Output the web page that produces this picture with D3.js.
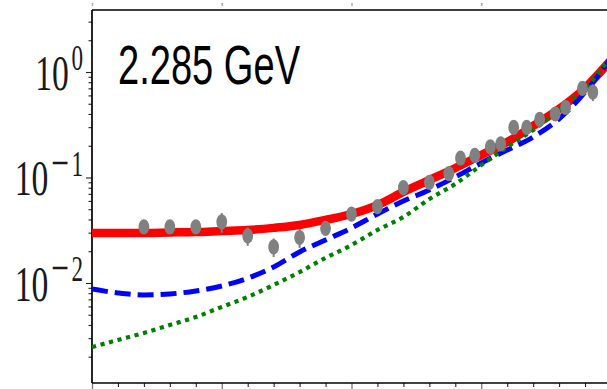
<!DOCTYPE html>
<html>
<head>
<meta charset="utf-8">
<script src="https://cdn.jsdelivr.net/npm/d3@7/dist/d3.min.js"></script>
<style>
  html, body { margin: 0; padding: 0; background: #fff; }
  svg { display: block; }
</style>
</head>
<body>
<svg id="chart" width="607" height="389"></svg>
<script>
// Angular distribution at W = 2.285 GeV: measured points and three model curves.
const energyLabel = "2.285 GeV";

// measured points
const cosTheta = [-0.8, -0.7, -0.6, -0.5, -0.4, -0.3, -0.2, -0.1, 0.0, 0.1, 0.2, 0.3,
                  0.375, 0.42, 0.475, 0.535, 0.575, 0.625, 0.675, 0.725, 0.785, 0.825, 0.89, 0.93];
const dsigma = [0.034, 0.034, 0.034, 0.038, 0.028, 0.022, 0.027, 0.033, 0.045, 0.053, 0.080, 0.090,
                0.109, 0.153, 0.162, 0.195, 0.208, 0.298, 0.298, 0.355, 0.400, 0.461, 0.698, 0.646];
const dsigmaErr = [0.003, 0.003, 0.003, 0.008, 0.0055, 0.0044, 0.0055, 0.003, 0.004, 0.005, 0.007, 0.008,
                   0.009, 0.012, 0.013, 0.015, 0.016, 0.024, 0.024, 0.028, 0.032, 0.040, 0.060, 0.116];

// model curves on a common cos(theta) grid
const cosGrid = [-1.0, -0.9, -0.8, -0.7, -0.6, -0.5, -0.4, -0.3, -0.2, -0.1, 0.0,
                 0.1, 0.2, 0.3, 0.4, 0.5, 0.6, 0.7, 0.8, 0.9, 1.0];
const fullModel = [0.0298, 0.0298, 0.0298, 0.0301, 0.0304, 0.0311, 0.0318, 0.0333, 0.0355, 0.0396, 0.0451,
                   0.0548, 0.0730, 0.0946, 0.123, 0.163, 0.217, 0.308, 0.446, 0.705, 1.30];
const dashedModel = [0.00877, 0.00804, 0.00769, 0.00787, 0.00840, 0.00937, 0.0111, 0.0142, 0.0197, 0.0256, 0.0332,
                     0.0451, 0.0598, 0.0762, 0.101, 0.137, 0.182, 0.242, 0.359, 0.646, 1.36];
const dottedModel = [0.00247, 0.00288, 0.00336, 0.00400, 0.00476, 0.00593, 0.00737, 0.00957, 0.0127, 0.0173, 0.0229,
                     0.0318, 0.0422, 0.0625, 0.0868, 0.131, 0.195, 0.282, 0.436, 0.705, 1.39];

// axis limits and ticks
const xLimits = [-1, 1];
const yLimits = [0.001127, 3.87];
const yMajorTicks = [0.01, 0.1, 1];
const yTickLabels = [["10", "\u2212", "2"], ["10", "\u2212", "1"], ["10", "", "0"]];
const xMajorTicks = [-1, -0.5, 0, 0.5, 1];

const svg = d3.select("#chart");
const plotLeft = 92, plotRight = 611, plotTop = 10, plotBottom = 383;

const x = d3.scaleLinear().domain(xLimits).range([plotLeft, plotRight]);
const y = d3.scaleLog().domain(yLimits).range([plotBottom, plotTop]);

svg.append("rect").attr("width", 607).attr("height", 389).attr("fill", "#fff");

svg.append("defs").append("clipPath").attr("id", "plot-area")
  .append("rect").attr("x", plotLeft).attr("y", plotTop)
  .attr("width", plotRight - plotLeft).attr("height", plotBottom - plotTop);

// minor ticks on y: 2..9 x 10^k inside the limits
const yMinor = [];
for (let k = -3; k <= 0; k++) {
  for (let m = 2; m <= 9; m++) {
    const v = m * Math.pow(10, k);
    if (v >= yLimits[0] && v <= yLimits[1]) yMinor.push(v);
  }
}
const xMinor = d3.range(-10, 11).map(i => i / 10).filter(v => !xMajorTicks.includes(v));

function styleAxis(g) {
  g.select(".domain").remove();
  g.selectAll("line").attr("stroke", "#222").attr("stroke-width", 1.1);
}

svg.append("g").attr("transform", `translate(${plotLeft},0)`)
  .call(d3.axisLeft(y).tickValues(yMinor).tickSize(3.5).tickFormat(""))
  .call(styleAxis);
svg.append("g").attr("transform", `translate(${plotLeft},0)`)
  .call(d3.axisLeft(y).tickValues(yMajorTicks).tickSize(6).tickFormat(""))
  .call(styleAxis);

svg.append("g").attr("transform", `translate(0,${plotBottom})`)
  .call(d3.axisBottom(x).tickValues(xMinor).tickSize(4).tickFormat(""))
  .call(styleAxis);
svg.append("g").attr("transform", `translate(0,${plotBottom})`)
  .call(d3.axisBottom(x).tickValues(xMajorTicks).tickSize(7).tickFormat(""))
  .call(g => { g.select(".domain").remove(); g.selectAll("line").attr("stroke", "#777").attr("stroke-width", 1.3); });

// tick stubs of the panel above
svg.append("g").selectAll("line").data(xMajorTicks.slice(0, 4)).join("line")
  .attr("x1", d => x(d) + 0.5).attr("x2", d => x(d) + 0.5)
  .attr("y1", 3).attr("y2", 6)
  .attr("stroke", "#aaa").attr("stroke-width", 1.5);

// frame: left, top, bottom
svg.append("line").attr("x1", plotLeft).attr("x2", plotLeft).attr("y1", plotTop).attr("y2", plotBottom)
  .attr("stroke", "#000").attr("stroke-width", 1.7);
svg.append("line").attr("x1", plotLeft).attr("x2", 607).attr("y1", plotTop).attr("y2", plotTop)
  .attr("stroke", "#000").attr("stroke-width", 1.7);
svg.append("line").attr("x1", plotLeft).attr("x2", 607).attr("y1", plotBottom).attr("y2", plotBottom)
  .attr("stroke", "#000").attr("stroke-width", 1.7);

// y tick labels, power-of-ten notation
const squeeze = 0.66;
yMajorTicks.forEach((v, i) => {
  const [base, sign, expo] = yTickLabels[i];
  const g = svg.append("g").attr("transform", `translate(83,${y(v) + 18}) scale(${squeeze},1)`);
  const t = g.append("text").attr("text-anchor", "end")
    .attr("font-family", "'Liberation Serif', 'DejaVu Serif', serif")
    .attr("font-size", 51).attr("fill", "#1a1a1a");
  t.append("tspan").text(base);
  if (sign) {
    t.append("tspan").attr("dy", -17).attr("dx", 4).attr("font-size", 48).text(sign);
    t.append("tspan").attr("dy", -3).attr("dx", 4).attr("font-size", 35).text(expo);
  } else {
    t.append("tspan").attr("dy", -20).attr("dx", 4).attr("font-size", 35).text(expo);
  }
});

// curves
const plot = svg.append("g").attr("clip-path", "url(#plot-area)");
const lineOf = vals => d3.line()
  .x((d, i) => x(cosGrid[i]))
  .y(d => y(d))
  .curve(d3.curveMonotoneX)(vals);

plot.append("path").attr("d", lineOf(fullModel))
  .attr("fill", "none").attr("stroke", "#ff0000").attr("stroke-width", 8.5);
plot.append("path").attr("d", lineOf(dashedModel))
  .attr("fill", "none").attr("stroke", "#0000ff").attr("stroke-width", 5)
  .attr("stroke-dasharray", "16,7");
plot.append("path").attr("d", lineOf(dottedModel))
  .attr("fill", "none").attr("stroke", "#008000").attr("stroke-width", 4.2)
  .attr("stroke-dasharray", "4.2,4.6");

// measured points with error bars
const pts = plot.append("g");
pts.selectAll("line").data(cosTheta).join("line")
  .attr("x1", d => x(d)).attr("x2", d => x(d))
  .attr("y1", (d, i) => y(dsigma[i] + dsigmaErr[i]))
  .attr("y2", (d, i) => y(Math.max(dsigma[i] - dsigmaErr[i], yLimits[0])))
  .attr("stroke", "#808080").attr("stroke-width", 2);
pts.selectAll("ellipse").data(cosTheta).join("ellipse")
  .attr("cx", d => x(d)).attr("cy", (d, i) => y(dsigma[i]))
  .attr("rx", 5.4).attr("ry", 7.6)
  .attr("fill", "#808080");

// energy label
svg.append("text")
  .attr("transform", `translate(118,84) scale(0.68,1)`)
  .attr("font-family", "'Liberation Sans', Arial, sans-serif")
  .attr("font-size", 56).attr("fill", "#000")
  .text(energyLabel);
</script>
</body>
</html>
